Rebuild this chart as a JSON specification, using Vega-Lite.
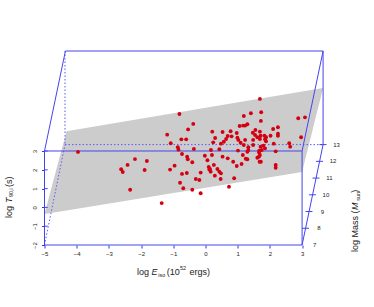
{
"$schema":"https://vega.github.io/schema/vega-lite/v6.json",
"autosize":"none","width":279,"height":194,
"padding":{"left":44.5,"top":51,"right":50.5,"bottom":62},
"background":"white",
"config":{"view":{"stroke":null},"text":{"font":"Liberation Sans"}},
"datasets":{
"plane":[{"x":-5,"y":-0.351,"yb":-0.351},{"x":-4.317,"y":4.053,"yb":-0.160},{"x":3,"y":6.165,"yb":1.883},{"x":3.652,"y":6.351,"yb":6.351}],
"dashed":[{"x":-4.363,"y":8.319,"x2":-4.363,"y2":3.34},{"x":-4.363,"y":3.34,"x2":3.652,"y2":3.34},{"x":-5,"y":-2,"x2":-4.363,"y2":3.34}],
"solid":[
{"x":-5,"y":-2,"x2":3,"y2":-2},{"x":-5,"y":3,"x2":3,"y2":3},{"x":-5,"y":-2,"x2":-5,"y2":3},{"x":3,"y":-2,"x2":3,"y2":3},
{"x":-4.35,"y":8.319,"x2":3.652,"y2":8.319},{"x":3.652,"y":8.319,"x2":3.652,"y2":3.34},
{"x":-5,"y":3,"x2":-4.35,"y2":8.319},{"x":3,"y":3,"x2":3.652,"y2":8.319},{"x":3,"y":-2,"x2":3.652,"y2":3.34},
{"x":-5,"y":-1,"x2":-4.9,"y2":-1},{"x":-5,"y":0,"x2":-4.9,"y2":0},{"x":-5,"y":1,"x2":-4.9,"y2":1},{"x":-5,"y":2,"x2":-4.9,"y2":2},{"x":-5,"y":3,"x2":-4.9,"y2":3},
{"x":3.0,"y":-1.11,"x2":3.216,"y2":-1.11},{"x":3.106,"y":-0.22,"x2":3.322,"y2":-0.22},{"x":3.215,"y":0.67,"x2":3.431,"y2":0.67},{"x":3.324,"y":1.56,"x2":3.54,"y2":1.56},{"x":3.432,"y":2.45,"x2":3.648,"y2":2.45},{"x":3.54,"y":3.34,"x2":3.76,"y2":3.34}
],
"mass":[{"x":3.39,"y":-2,"label":"7"},{"x":3.52,"y":-1.11,"label":"8"},{"x":3.63,"y":-0.22,"label":"9"},{"x":3.74,"y":0.67,"label":"10"},{"x":3.85,"y":1.56,"label":"11"},{"x":3.96,"y":2.45,"label":"12"},{"x":4.07,"y":3.34,"label":"13"}],
"bursts":[
{"x":-3.96,"y":2.95},{"x":-2.19,"y":2.57},{"x":-2.42,"y":2.26},{"x":-1.82,"y":2.47},{"x":-2.62,"y":2.03},{"x":-2.57,"y":1.88},{"x":-1.89,"y":1.99},{"x":-2.34,"y":0.94},
{"x":-0.81,"y":4.97},{"x":-0.38,"y":4.44},{"x":-0.54,"y":4.15},{"x":-1.19,"y":3.87},{"x":-0.75,"y":3.62},{"x":-0.60,"y":3.62},{"x":-1.08,"y":3.41},{"x":-0.86,"y":3.20},{"x":-0.84,"y":3.07},{"x":-0.36,"y":3.11},{"x":-0.73,"y":2.84},{"x":-0.57,"y":2.70},{"x":-0.55,"y":2.56},{"x":-0.02,"y":2.75},{"x":0.06,"y":2.51},{"x":-0.41,"y":2.40},{"x":-0.96,"y":2.22},{"x":-1.10,"y":2.01},{"x":0.10,"y":2.15},{"x":0.12,"y":2.01},{"x":-0.15,"y":1.85},{"x":-0.58,"y":1.83},{"x":-0.73,"y":1.78},{"x":-0.30,"y":1.51},{"x":-0.19,"y":1.46},{"x":-0.79,"y":1.31},{"x":-0.69,"y":1.02},{"x":-0.41,"y":0.94},{"x":-0.15,"y":0.75},{"x":-1.36,"y":0.23},
{"x":1.41,"y":5.01},{"x":1.19,"y":4.86},{"x":1.30,"y":4.42},{"x":1.17,"y":4.35},{"x":1.23,"y":4.35},{"x":1.06,"y":4.33},{"x":0.21,"y":4.03},{"x":0.53,"y":4.01},{"x":0.78,"y":4.05},{"x":0.97,"y":3.96},{"x":1.55,"y":4.12},{"x":1.47,"y":3.97},{"x":1.54,"y":3.85},{"x":0.30,"y":3.69},{"x":0.69,"y":3.80},{"x":0.81,"y":3.78},{"x":0.64,"y":3.64},{"x":0.57,"y":3.49},{"x":0.24,"y":3.46},{"x":0.48,"y":3.39},{"x":0.99,"y":3.71},{"x":1.02,"y":3.59},{"x":1.09,"y":3.44},{"x":1.19,"y":3.32},{"x":1.23,"y":3.59},{"x":1.48,"y":3.59},{"x":1.61,"y":3.73},{"x":1.33,"y":3.20},{"x":1.48,"y":3.32},{"x":0.43,"y":3.09},{"x":0.17,"y":3.05},{"x":1.33,"y":3.05},{"x":1.30,"y":2.96},{"x":1.16,"y":2.79},{"x":1.67,"y":3.02},{"x":0.53,"y":2.70},{"x":0.69,"y":2.61},{"x":1.30,"y":2.56},{"x":0.86,"y":2.43},{"x":1.12,"y":2.31},{"x":0.97,"y":2.20},{"x":0.26,"y":2.26},{"x":1.66,"y":2.70},{"x":0.14,"y":2.04},{"x":0.37,"y":2.04},{"x":0.43,"y":1.90},{"x":0.48,"y":1.81},{"x":0.29,"y":1.69},{"x":0.47,"y":1.51},{"x":0.89,"y":1.55},{"x":0.73,"y":1.10},
{"x":1.69,"y":5.77},{"x":1.73,"y":5.06},{"x":1.72,"y":4.60},{"x":2.88,"y":4.74},{"x":3.09,"y":4.79},{"x":2.25,"y":4.26},{"x":2.10,"y":4.17},{"x":1.69,"y":4.03},{"x":2.25,"y":3.92},{"x":2.25,"y":3.81},{"x":2.02,"y":3.81},{"x":1.83,"y":3.81},{"x":1.88,"y":3.73},{"x":1.71,"y":3.81},{"x":1.85,"y":3.62},{"x":1.88,"y":3.52},{"x":1.69,"y":3.64},{"x":2.97,"y":3.73},{"x":2.12,"y":3.39},{"x":2.60,"y":3.41},{"x":2.63,"y":3.23},{"x":1.80,"y":3.28},{"x":1.85,"y":3.14},{"x":1.71,"y":3.23},{"x":1.69,"y":3.02},{"x":1.66,"y":2.93},{"x":1.75,"y":3.05},{"x":2.18,"y":2.98},{"x":1.69,"y":2.79},{"x":1.61,"y":2.64},{"x":1.72,"y":2.43},{"x":1.68,"y":2.43},{"x":2.18,"y":2.26},{"x":2.18,"y":2.11},{"x":0.20,"y":2.79},{"x":0.16,"y":1.90},{"x":1.01,"y":3.02},{"x":1.25,"y":2.59}
],
"titleH":[{"x":-2.13,"y":-3.57,"label":"log"},{"x":-1.2,"y":-3.57,"label":"(10"},{"x":-0.5,"y":-3.57,"label":"ergs)"}],
"titleHItalic":[{"x":-1.68,"y":-3.57,"label":"E"}],
"titleHSub":[{"x":-1.47,"y":-3.68,"label":"iso"},{"x":-0.79,"y":-3.33,"label":"52"}],
"titleV":[{"x":-6.02,"y":-0.56,"label":"log"},{"x":-6.02,"y":1.09,"label":"(s)"},{"x":4.74,"y":-2.37,"label":"log Mass ("},{"x":4.74,"y":0.78,"label":")"}],
"titleVItalic":[{"x":-6.02,"y":0.23,"label":"T"},{"x":4.74,"y":-0.14,"label":"M"}],
"titleVSub":[{"x":-5.97,"y":0.55,"label":"90,i"},{"x":4.79,"y":0.36,"label":"sun"}]
},
"encoding":{
"x":{"field":"x","type":"quantitative","scale":{"domain":[-5,3.665],"nice":false,"zero":false},
 "axis":{"values":[-5,-4,-3,-2,-1,0,1,2,3],"title":null,"grid":false,"domain":false,"tickColor":"#3333ee","tickSize":3,"labelFont":"Liberation Sans","labelFontSize":6,"labelColor":"#222222","labelPadding":2,"labelFlush":false,"labelOverlap":false}},
"y":{"field":"y","type":"quantitative","scale":{"domain":[-2,8.319],"nice":false,"zero":false},
 "axis":{"values":[-2,-1,0,1,2,3],"title":null,"grid":false,"domain":false,"tickColor":"#3333ee","tickSize":3,"labelFont":"Liberation Sans","labelFontSize":6,"labelColor":"#222222","labelAngle":270,"labelAlign":"center","labelBaseline":"bottom","labelPadding":4,"labelFlush":false,"labelOverlap":false}}
},
"layer":[
{"data":{"name":"plane"},"mark":{"type":"area","color":"#cccccc","line":false,"opacity":1},"encoding":{"y2":{"field":"yb"}}},
{"data":{"name":"dashed"},"mark":{"type":"rule","color":"#5a5aff","strokeWidth":1,"strokeDash":[1.5,2]},"encoding":{"x2":{"field":"x2"},"y2":{"field":"y2"}}},
{"data":{"name":"solid"},"mark":{"type":"rule","color":"#4444ee","strokeWidth":1},"encoding":{"x2":{"field":"x2"},"y2":{"field":"y2"}}},
{"data":{"name":"bursts"},"mark":{"type":"point","filled":true,"color":"#d40010","size":15,"opacity":1}},
{"data":{"name":"mass"},"mark":{"type":"text","fontSize":6,"color":"#222222","align":"center","baseline":"middle"},"encoding":{"text":{"field":"label"}}},
{"data":{"name":"titleH"},"mark":{"type":"text","fontSize":9,"color":"#222222","align":"left","baseline":"alphabetic"},"encoding":{"text":{"field":"label"}}},
{"data":{"name":"titleHItalic"},"mark":{"type":"text","fontSize":9,"fontStyle":"italic","color":"#222222","align":"left","baseline":"alphabetic"},"encoding":{"text":{"field":"label"}}},
{"data":{"name":"titleHSub"},"mark":{"type":"text","fontSize":5.5,"color":"#222222","align":"left","baseline":"alphabetic"},"encoding":{"text":{"field":"label"}}},
{"data":{"name":"titleV"},"mark":{"type":"text","fontSize":9,"color":"#222222","align":"left","baseline":"alphabetic","angle":270},"encoding":{"text":{"field":"label"}}},
{"data":{"name":"titleVItalic"},"mark":{"type":"text","fontSize":9,"fontStyle":"italic","color":"#222222","align":"left","baseline":"alphabetic","angle":270},"encoding":{"text":{"field":"label"}}},
{"data":{"name":"titleVSub"},"mark":{"type":"text","fontSize":5.5,"color":"#222222","align":"left","baseline":"alphabetic","angle":270},"encoding":{"text":{"field":"label"}}}
]
}
